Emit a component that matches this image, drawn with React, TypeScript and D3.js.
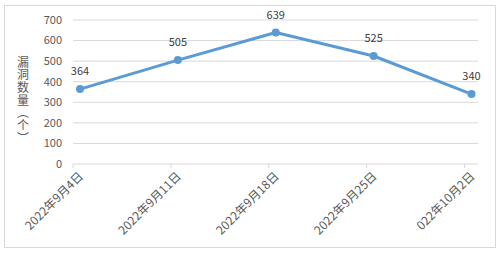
import React from "react";
import * as d3 from "d3";

const categories = ["2022年9月4日", "2022年9月11日", "2022年9月18日", "2022年9月25日", "022年10月2日"];
const values = [364, 505, 639, 525, 340];
const yTicks = [0, 100, 200, 300, 400, 500, 600, 700];
const yTitle = "漏洞数量（个）";

export default function App() {
  const W = 504, H = 256;
  const plotLeft = 73, plotRight = 478, plotTop = 20, plotBottom = 164;
  const x = d3.scalePoint<string>().domain(categories).range([80, 471.5]);
  const y = d3.scaleLinear().domain([0, 700]).range([plotBottom, plotTop]);
  const line = d3.line<number>().x((_, i) => x(categories[i])!).y((d) => y(d));
  const font = "'Noto Sans CJK SC', 'Noto Sans', sans-serif";
  return (
    <svg width={W} height={H} style={{ position: "absolute", left: 0, top: 0, background: "#fff" }}>
      <rect x={4.5} y={5.5} width={491} height={242} fill="#fff" stroke="#d9d9d9" />
      {yTicks.map((t) => (
        <g key={t}>
          {t > 0 && <line x1={plotLeft} x2={plotRight} y1={y(t)} y2={y(t)} stroke="#d9d9d9" strokeWidth={1} />}
          <text x={62} y={y(t)} dy="0.35em" textAnchor="end" fontSize={11} fill="#595959" fontFamily={font}>{t}</text>
        </g>
      ))}
      <line x1={plotLeft} x2={plotRight} y1={plotBottom} y2={plotBottom} stroke="#d9d9d9" strokeWidth={1} />
      {categories.map((c, i) => {
        const tx = x(c)! - 7;
        return (
          <line key={"t" + i} x1={tx} x2={tx} y1={plotBottom} y2={plotBottom + 4} stroke="#d9d9d9" />
        );
      })}
      {categories.map((c) => (
        <text key={c} transform={`translate(${x(c)! + 1},${plotBottom + 10}) rotate(-45)`} textAnchor="end" dy="0.35em" fontSize={12} fill="#595959" fontFamily={font}>{c}</text>
      ))}
      <text x={23} y={56} fontSize={12} fill="#595959" fontFamily={font} style={{ writingMode: "vertical-rl" as any }} letterSpacing={0.7}>{yTitle}</text>
      <path d={line(values)!} fill="none" stroke="#5b9bd5" strokeWidth={3} strokeLinejoin="round" />
      {values.map((v, i) => (
        <g key={i}>
          <circle cx={x(categories[i])!} cy={y(v)} r={4} fill="#5b9bd5" />
          <text x={x(categories[i])!} y={y(v) - 14} textAnchor="middle" fontSize={11} fill="#404040" fontFamily={font}>{v}</text>
        </g>
      ))}
    </svg>
  );
}
